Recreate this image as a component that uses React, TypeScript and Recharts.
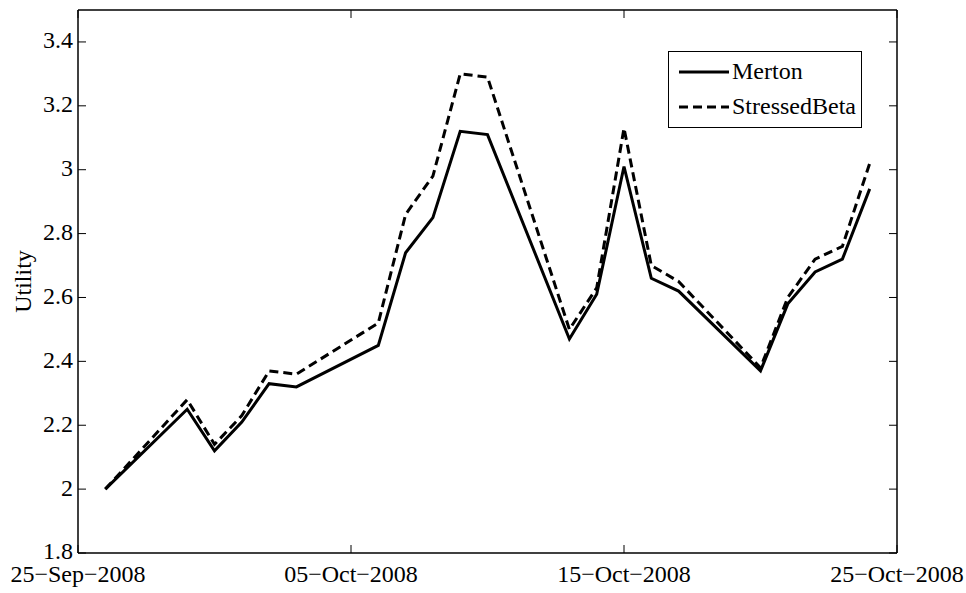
import React from "react";
import { LineChart, Line, XAxis, YAxis, Legend } from "recharts";

const DATES = [
  "2008-09-26", "2008-09-29", "2008-09-30", "2008-10-01", "2008-10-02", "2008-10-03",
  "2008-10-06", "2008-10-07", "2008-10-08", "2008-10-09", "2008-10-10",
  "2008-10-13", "2008-10-14", "2008-10-15", "2008-10-16", "2008-10-17",
  "2008-10-20", "2008-10-21", "2008-10-22", "2008-10-23", "2008-10-24",
];
const MERTON = [
  2.0, 2.25, 2.12, 2.21, 2.33, 2.32,
  2.45, 2.74, 2.85, 3.12, 3.11,
  2.47, 2.61, 3.01, 2.66, 2.62,
  2.37, 2.58, 2.68, 2.72, 2.94,
];
const STRESSED_BETA = [
  2.0, 2.28, 2.14, 2.23, 2.37, 2.36,
  2.52, 2.86, 2.98, 3.30, 3.29,
  2.50, 2.63, 3.13, 2.70, 2.65,
  2.38, 2.60, 2.72, 2.76, 3.02,
];
const X_TICKS = ["2008-09-25", "2008-10-05", "2008-10-15", "2008-10-25"];
const Y_TICKS = [1.8, 2, 2.2, 2.4, 2.6, 2.8, 3, 3.2, 3.4];
const Y_DOMAIN = [1.8, 3.5];

const MONTHS = ["Jan", "Feb", "Mar", "Apr", "May", "Jun", "Jul", "Aug", "Sep", "Oct", "Nov", "Dec"];
const toTs = (s: string) => {
  const [y, m, d] = s.split("-").map(Number);
  return Date.UTC(y, m - 1, d);
};
const fmtDate = (ts: number) => {
  const d = new Date(ts);
  const dd = String(d.getUTCDate()).padStart(2, "0");
  return `${dd}\u2212${MONTHS[d.getUTCMonth()]}\u2212${d.getUTCFullYear()}`;
};

const data = DATES.map((d, i) => ({ t: toTs(d), merton: MERTON[i], stressed: STRESSED_BETA[i] }));
const xTicks = X_TICKS.map(toTs);
const xDomain = [xTicks[0], xTicks[xTicks.length - 1]];

const FONT = "'Liberation Serif', 'Times New Roman', serif";
const TICK_LEN = 8;

const LeftTick = (p: any) => (
  <g>
    <line x1={p.x} x2={p.x + TICK_LEN} y1={p.y} y2={p.y} stroke="#000" strokeWidth={1} />
    <text x={p.x - 5} y={p.y - 2} dy="0.35em" textAnchor="end" fontFamily={FONT} fontSize={24} fill="#000">
      {String(p.payload.value)}
    </text>
  </g>
);
const RightTick = (p: any) => (
  <line x1={p.x - TICK_LEN} x2={p.x} y1={p.y} y2={p.y} stroke="#000" strokeWidth={1} />
);
const BottomTick = (p: any) => (
  <g>
    <line x1={p.x} x2={p.x} y1={p.y} y2={p.y - TICK_LEN} stroke="#000" strokeWidth={1} />
    <text x={p.x} y={p.y + 29} textAnchor="middle" fontFamily={FONT} fontSize={24} fill="#000">
      {fmtDate(p.payload.value)}
    </text>
  </g>
);
const TopTick = (p: any) => (
  <line x1={p.x} x2={p.x} y1={p.y} y2={p.y + TICK_LEN} stroke="#000" strokeWidth={1} />
);

const LegendBox = () => (
  <div
    style={{
      width: 194,
      height: 77,
      border: "1px solid #000",
      background: "#fff",
      fontFamily: FONT,
      fontSize: 24,
      boxSizing: "border-box",
    }}
  >
    {[
      { label: "Merton", dash: undefined },
      { label: "StressedBeta", dash: "9 5" },
    ].map((e, i) => (
      <div key={i} style={{ display: "flex", alignItems: "center", height: 35, marginTop: i === 0 ? 2 : 0 }}>
        <svg width={63} height={10} style={{ flex: "none" }}>
          <line x1={10} x2={60} y1={5} y2={5} stroke="#000" strokeWidth={3} strokeDasharray={e.dash} />
        </svg>
        <span style={{ lineHeight: "35px" }}>{e.label}</span>
      </div>
    ))}
  </div>
);

export default function App() {
  return (
    <div style={{ position: "absolute", left: 0, top: 0, background: "#fff" }}>
      <LineChart width={966} height={593} data={data} margin={{ top: 0, right: 0, bottom: 0, left: 0 }}>
        <XAxis
          xAxisId="bottom"
          dataKey="t"
          type="number"
          domain={xDomain}
          ticks={xTicks}
          height={40}
          tickSize={0}
          tickMargin={0}
          tick={<BottomTick />}
          axisLine={{ stroke: "#000", strokeWidth: 1.5 }}
          allowDataOverflow
        />
        <XAxis
          xAxisId="top"
          dataKey="t"
          orientation="top"
          type="number"
          domain={xDomain}
          ticks={xTicks}
          height={10}
          tickSize={0}
          tickMargin={0}
          tick={<TopTick />}
          axisLine={{ stroke: "#000", strokeWidth: 1.5 }}
          allowDataOverflow
        />
        <YAxis
          yAxisId="left"
          type="number"
          domain={Y_DOMAIN}
          ticks={Y_TICKS}
          width={78}
          tickSize={0}
          tickMargin={0}
          tick={<LeftTick />}
          axisLine={{ stroke: "#000", strokeWidth: 1.5 }}
          allowDataOverflow
          label={{
            value: "Utility",
            angle: -90,
            position: "insideLeft",
            offset: 22,
            style: { fontFamily: FONT, fontSize: 24, fill: "#000", textAnchor: "middle" },
          }}
        />
        <YAxis
          yAxisId="right"
          dataKey="merton"
          orientation="right"
          type="number"
          domain={Y_DOMAIN}
          ticks={Y_TICKS}
          width={69}
          tickSize={0}
          tickMargin={0}
          tick={<RightTick />}
          axisLine={{ stroke: "#000", strokeWidth: 1.5 }}
          allowDataOverflow
        />
        <Legend
          layout="vertical"
          align="center"
          verticalAlign="middle"
          content={<LegendBox />}
          wrapperStyle={{ left: 668, top: 51, width: 194, height: 77 }}
        />
        <Line
          xAxisId="bottom"
          yAxisId="left"
          dataKey="merton"
          name="Merton"
          type="linear"
          stroke="#000"
          strokeWidth={3}
          dot={false}
          isAnimationActive={false}
        />
        <Line
          xAxisId="bottom"
          yAxisId="left"
          dataKey="stressed"
          name="StressedBeta"
          type="linear"
          stroke="#000"
          strokeWidth={3}
          strokeDasharray="9 5"
          dot={false}
          isAnimationActive={false}
        />
      </LineChart>
    </div>
  );
}
